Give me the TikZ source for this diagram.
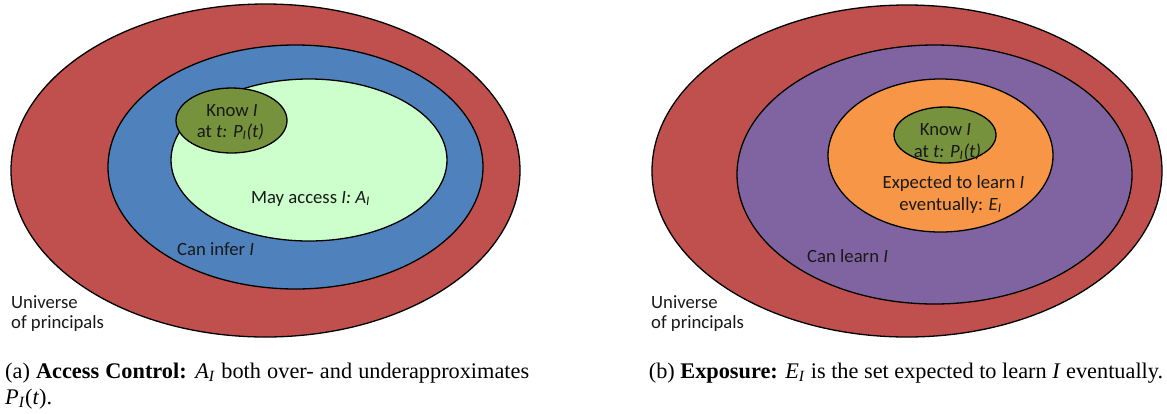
\documentclass[tikz,border=0pt]{standalone}
\usepackage{fontspec}
\setmainfont{Carlito}
\newfontfamily\capfont{Liberation Serif}
\definecolor{cred}{HTML}{C0504D}
\definecolor{cblue}{HTML}{4F81BD}
\definecolor{clgreen}{HTML}{CCFFCC}
\definecolor{colive}{HTML}{76923C}
\definecolor{cpurple}{HTML}{8064A2}
\definecolor{corange}{HTML}{F79646}
\newcommand{\sbI}{\textsubscript{\textit{I}}}
\tikzset{
  setshape/.style={draw=black, line width=1.3pt},
  lbl/.style={inner sep=0pt, font=\fontsize{18.7}{21}\selectfont, text=black!90},
  captext/.style={inner sep=0pt, anchor=base west, font=\capfont\fontsize{22.3}{26}\selectfont}
}
\begin{document}
\begin{tikzpicture}[x=1pt,y=-1pt]
\useasboundingbox (0,0) rectangle (1167,413);
% ---- (a) Access control
\fill[cred, setshape] (265.5,170.5) ellipse [x radius=254.5, y radius=166.5];
\fill[cblue, setshape] (295.5,167) ellipse [x radius=187.5, y radius=122];
\fill[clgreen, setshape] (309,160) ellipse [x radius=138, y radius=81];
\fill[colive, setshape] (231.5,120.5) ellipse [x radius=55.5, y radius=32.5];
\node[lbl, anchor=base] (aknow) at (232,116) {Know \textit{I}};
\node[lbl, anchor=base] (aat) at (230.5,137) {at \textit{t: P\sbI(t)}};
\node[lbl, anchor=base] (amay) at (310.5,203) {May access \textit{I: A\sbI}};
\node[lbl, anchor=base west] (ainfer) at (177,255) {Can infer \textit{I}};
\node[lbl, anchor=base west] (auni1) at (11,308) {Universe};
\node[lbl, anchor=base west] (auni2) at (11,328) {of principals};
% ---- (b) Exposure
\fill[cred, setshape] (907,171) ellipse [x radius=255, y radius=166];
\fill[cpurple, setshape] (934.5,174.5) ellipse [x radius=197.5, y radius=129.5];
\fill[corange, setshape] (940.5,155.5) ellipse [x radius=112.5, y radius=76.5];
\fill[colive, setshape] (945,135) ellipse [x radius=51, y radius=28];
\node[lbl, anchor=base] (bknow) at (945.5,135) {Know \textit{I}};
\node[lbl, anchor=base] (bat) at (947.5,157) {at \textit{t: P\sbI(t)}};
\node[lbl, anchor=base] (bexp) at (953.5,188) {Expected to learn \textit{I}};
\node[lbl, anchor=base] (bev) at (950.5,210) {eventually: \textit{E\sbI}};
\node[lbl, anchor=base west] (blearn) at (807,262) {Can learn \textit{I}};
\node[lbl, anchor=base west] (buni1) at (651,308) {Universe};
\node[lbl, anchor=base west] (buni2) at (651,328) {of principals};
% ---- captions
\node[captext] (capa1) at (5,378) {\makebox[524pt][s]{(a) \textbf{Access Control:} \textit{A}\textsubscript{\textit{I}} both over- and underapproximates}};
\node[captext] (capa2) at (5,404) {\textit{P}\textsubscript{\textit{I}}(\textit{t}).};
\node[captext, anchor=base] (capb) at (906,378) {(b) \textbf{Exposure:} \textit{E}\textsubscript{\textit{I}} is the set expected to learn \textit{I} eventually.};
\end{tikzpicture}
\end{document}
